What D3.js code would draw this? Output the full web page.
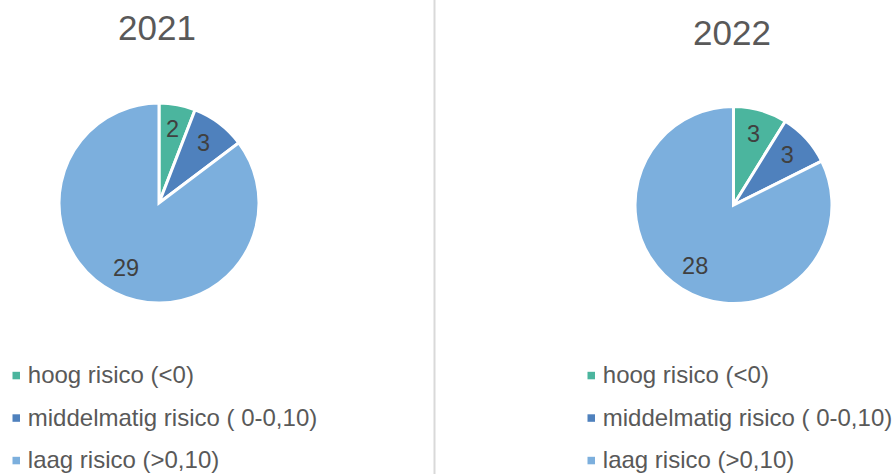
<!DOCTYPE html>
<html>
<head>
    <script src="https://d3js.org/d3.v7.min.js"></script>
    <style>
        body { margin: 0; background: #fff; }
        svg { display: block; font-family: "Liberation Sans", Arial, sans-serif; }
    </style>
</head>
<body>
<script>
const categories = ['hoog risico (<0)', 'middelmatig risico ( 0-0,10)', 'laag risico (>0,10)'];
const years = ['2021', '2022'];
const values2021 = [2, 3, 29];
const values2022 = [3, 3, 28];

const colors = ['#4bb59e', '#4f81bd', '#7cafdd'];

const width = 892;
const height = 474;

// panel layout (Excel-style: two charts side by side)
const panels = [
    { year: years[0], values: values2021, cx: 159, cy: 203, r: 100, titleX: 157, titleY: 40, legendX: 12.5 },
    { year: years[1], values: values2022, cx: 733.5, cy: 205, r: 98.5, titleX: 732, titleY: 45, legendX: 587.5 }
];

const svg = d3.select('body').append('svg')
    .attr('width', width)
    .attr('height', height)
    .attr('viewBox', [0, 0, width, height]);

// divider between the two charts
svg.append('line')
    .attr('x1', 434.5).attr('x2', 434.5)
    .attr('y1', 0).attr('y2', height)
    .attr('stroke', '#d9d9d9')
    .attr('stroke-width', 2);

const pie = d3.pie().sort(null).value(d => d);
const color = d3.scaleOrdinal().domain(categories).range(colors);

panels.forEach(p => {
    const g = svg.append('g');

    g.append('text')
        .attr('x', p.titleX)
        .attr('y', p.titleY)
        .attr('text-anchor', 'middle')
        .attr('font-size', 35)
        .attr('fill', '#595959')
        .text(p.year);

    const arc = d3.arc().innerRadius(0).outerRadius(p.r);
    const labelArc = d3.arc().innerRadius(p.r * 0.74).outerRadius(p.r * 0.74);
    const arcs = pie(p.values);

    const pieG = g.append('g')
        .attr('transform', `translate(${p.cx}, ${p.cy})`);

    pieG.selectAll('path')
        .data(arcs)
        .join('path')
        .attr('d', arc)
        .attr('fill', (d, i) => color(categories[i]))
        .attr('stroke', '#fff')
        .attr('stroke-width', 3)
        .attr('stroke-linejoin', 'miter');

    pieG.selectAll('text')
        .data(arcs)
        .join('text')
        .attr('transform', d => `translate(${labelArc.centroid(d)})`)
        .attr('text-anchor', 'middle')
        .attr('dy', '0.3em')
        .attr('font-size', 23.5)
        .attr('fill', '#404040')
        .text(d => d.data);

    const legend = g.append('g')
        .attr('transform', `translate(${p.legendX}, 0)`);

    const rows = legend.selectAll('g')
        .data(categories)
        .join('g')
        .attr('transform', (d, i) => `translate(0, ${383.3 + i * 42.5})`);

    rows.append('rect')
        .attr('x', 0)
        .attr('y', -11.5)
        .attr('width', 7.5)
        .attr('height', 7.5)
        .attr('fill', d => color(d));

    rows.append('text')
        .attr('x', 15.3)
        .attr('y', 0)
        .attr('font-size', 24)
        .attr('fill', '#595959')
        .text(d => d);
});
</script>
</body>
</html>
